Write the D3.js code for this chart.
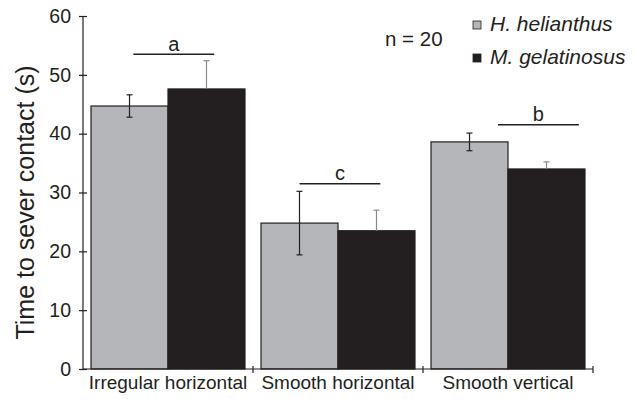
<!DOCTYPE html>
<html>
<head>
<meta charset="utf-8">
<script src="https://cdn.jsdelivr.net/npm/d3@7"></script>
<style>
  body { margin: 0; background: #fff; }
  svg { display: block; font-family: "Liberation Sans", Arial, Helvetica, sans-serif; }
</style>
</head>
<body>
<svg width="637" height="399"></svg>
<script>
// data
const categories = ['Irregular horizontal', 'Smooth horizontal', 'Smooth vertical'];
const seriesNames = ['H. helianthus', 'M. gelatinosus'];
const helianthus = [44.7, 24.8, 38.6];
const helianthusErr = [1.9, 5.4, 1.5];
const gelatinosus = [47.6, 23.5, 34.0];
const gelatinosusErr = [4.8, 3.5, 1.2];
const yTicks = [0, 10, 20, 30, 40, 50, 60];
const sigLetters = ['a', 'c', 'b'];
const sigLevels = [53.5, 31.5, 41.5];
const sigShift = [0.05, 0, 0.37];

const ink = '#231f20';
const colors = ['#b5b6b9', '#231f20'];
const errColors = ['#231f20', '#8a8a8a'];

const svg = d3.select('svg');
const plotL = 83, plotR = 593, plotT = 16, plotB = 369;

const x = d3.scaleBand().domain(categories).range([plotL, plotR]).padding(0);
const x1 = d3.scaleBand().domain(seriesNames).range([0, x.bandwidth()]).paddingOuter(0.104).paddingInner(0);
const y = d3.scaleLinear().domain([0, 60]).range([plotB, plotT]);

const rows = categories.map((c, i) => ({
  cat: c,
  vals: [
    {s: seriesNames[0], v: helianthus[i], e: helianthusErr[i], k: 0},
    {s: seriesNames[1], v: gelatinosus[i], e: gelatinosusErr[i], k: 1}
  ]
}));

// bars
const g = svg.selectAll('.grp').data(rows).enter().append('g')
  .attr('class', 'grp')
  .attr('transform', d => `translate(${x(d.cat)},0)`);

g.selectAll('rect').data(d => d.vals).enter().append('rect')
  .attr('x', d => x1(d.s))
  .attr('y', d => y(d.v))
  .attr('width', x1.bandwidth())
  .attr('height', d => y(0) - y(d.v))
  .attr('fill', d => colors[d.k])
  .attr('stroke', ink)
  .attr('stroke-width', 1.2);

// error bars (black bars only show the upper half)
const eb = g.selectAll('.err').data(d => d.vals).enter().append('g')
  .attr('class', 'err')
  .attr('stroke', d => errColors[d.k])
  .attr('stroke-width', 1.2);
eb.append('line')
  .attr('x1', d => x1(d.s) + x1.bandwidth() / 2)
  .attr('x2', d => x1(d.s) + x1.bandwidth() / 2)
  .attr('y1', d => y(d.v + d.e))
  .attr('y2', d => d.k === 0 ? y(d.v - d.e) : y(d.v));
eb.append('line')
  .attr('x1', d => x1(d.s) + x1.bandwidth() / 2 - 3)
  .attr('x2', d => x1(d.s) + x1.bandwidth() / 2 + 3)
  .attr('y1', d => y(d.v + d.e))
  .attr('y2', d => y(d.v + d.e));
eb.filter(d => d.k === 0).append('line')
  .attr('x1', d => x1(d.s) + x1.bandwidth() / 2 - 3)
  .attr('x2', d => x1(d.s) + x1.bandwidth() / 2 + 3)
  .attr('y1', d => y(d.v - d.e))
  .attr('y2', d => y(d.v - d.e));

// significance lines
const bw = x1.bandwidth();
g.each(function (d, i) {
  const x0 = x1(seriesNames[0]) + bw / 2 + sigShift[i] * bw;
  const sg = d3.select(this);
  sg.append('line')
    .attr('x1', x0).attr('x2', x0 + bw * 1.05)
    .attr('y1', y(sigLevels[i])).attr('y2', y(sigLevels[i]))
    .attr('stroke', ink).attr('stroke-width', 1.5);
  sg.append('text')
    .attr('x', x0 + bw * 0.525)
    .attr('y', y(sigLevels[i]) - 3.5)
    .attr('text-anchor', 'middle')
    .attr('font-size', 20)
    .attr('fill', ink)
    .text(sigLetters[i]);
});

// y axis
const yAxis = svg.append('g')
  .attr('transform', `translate(${plotL},0)`)
  .call(d3.axisLeft(y).tickValues(yTicks).tickSize(4).tickPadding(8));
yAxis.select('.domain').attr('d', `M0,${plotT}V${plotB}`).attr('stroke', ink).attr('stroke-width', 1.2);
yAxis.selectAll('.tick line').attr('x1', 4).attr('stroke', ink).attr('stroke-width', 1.2);
yAxis.selectAll('.tick text').attr('font-size', 19.5).attr('fill', ink)
  .attr('font-family', '"Liberation Sans", Arial, sans-serif');

// x axis
const xAxis = svg.append('g')
  .attr('transform', `translate(0,${plotB})`)
  .call(d3.axisBottom(x).tickSize(0).tickPadding(6.5));
xAxis.select('.domain').attr('d', `M${plotL},0H${plotR}`).attr('stroke', ink).attr('stroke-width', 1.2);
xAxis.selectAll('.tick text').attr('font-size', 19).attr('fill', ink)
  .attr('font-family', '"Liberation Sans", Arial, sans-serif');
xAxis.selectAll('.bound').data(categories).enter().append('line')
  .attr('class', 'bound')
  .attr('x1', d => x(d) + x.step()).attr('x2', d => x(d) + x.step())
  .attr('y1', -3).attr('y2', 4)
  .attr('stroke', ink).attr('stroke-width', 1.2);

// y title
svg.append('text')
  .attr('transform', `translate(34,${(plotT + plotB) / 2 + 10}) rotate(-90)`)
  .attr('text-anchor', 'middle')
  .attr('font-size', 25)
  .attr('fill', ink)
  .text('Time to sever contact (s)');

// n label
svg.append('text')
  .attr('x', 385).attr('y', 46)
  .attr('font-size', 20.5)
  .attr('fill', ink)
  .text('n = 20');

// legend
const lg = svg.selectAll('.leg').data(seriesNames).enter().append('g')
  .attr('class', 'leg')
  .attr('transform', (d, i) => `translate(473,${21 + i * 33})`);
lg.append('rect')
  .attr('width', 8).attr('height', 8)
  .attr('fill', (d, i) => colors[i])
  .attr('stroke', ink).attr('stroke-width', 0.8);
lg.append('text')
  .attr('x', 17).attr('y', 10)
  .attr('font-size', 21)
  .attr('font-style', 'italic')
  .attr('fill', ink)
  .text(d => d);
</script>
</body>
</html>
